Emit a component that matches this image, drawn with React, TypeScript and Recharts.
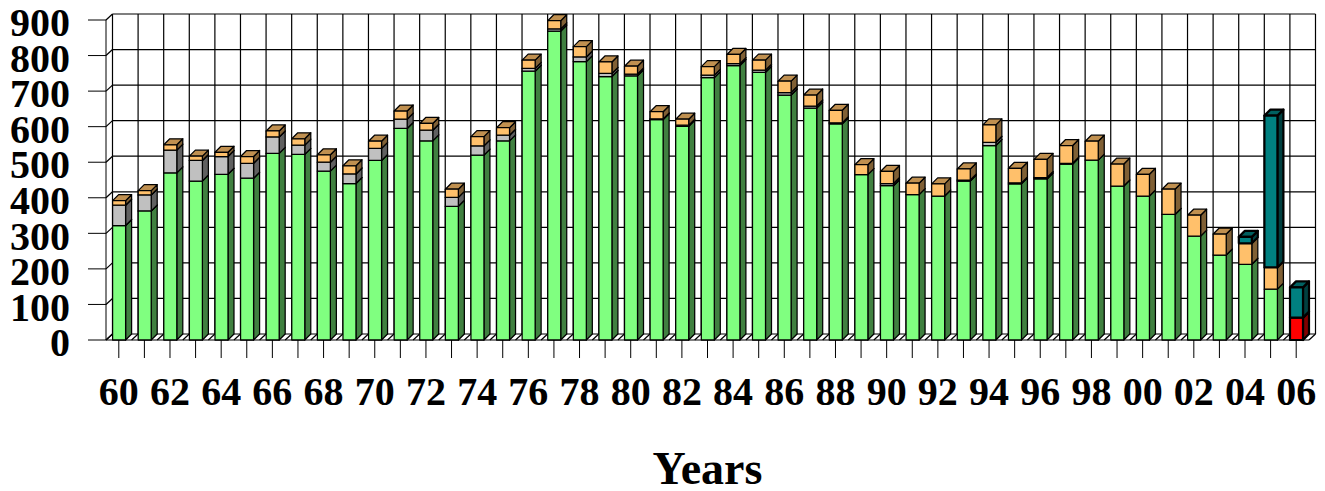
import { BarChart, Bar, XAxis, YAxis, CartesianGrid } from 'recharts';

const years = [
  '60', '61', '62', '63', '64', '65', '66', '67', '68', '69',
  '70', '71', '72', '73', '74', '75', '76', '77', '78', '79',
  '80', '81', '82', '83', '84', '85', '86', '87', '88', '89',
  '90', '91', '92', '93', '94', '95', '96', '97', '98', '99',
  '00', '01', '02', '03', '04', '05', '06',
];
const redValues = [
  0, 0, 0, 0, 0, 0, 0, 0, 0, 0,
  0, 0, 0, 0, 0, 0, 0, 0, 0, 0,
  0, 0, 0, 0, 0, 0, 0, 0, 0, 0,
  0, 0, 0, 0, 0, 0, 0, 0, 0, 0,
  0, 0, 0, 0, 0, 0, 63,
];
const greenValues = [
  322, 363, 470, 447, 466, 455, 525, 522, 475, 440,
  505, 595, 560, 376, 520, 560, 756, 869, 783, 741,
  743, 620, 601, 738, 772, 753, 689, 652, 608, 465,
  434, 409, 405, 447, 547, 439, 453, 495, 506, 433,
  405, 353, 292, 239, 213, 143, 0,
];
const grayValues = [
  57, 45, 64, 58, 50, 42, 46, 26, 25, 27,
  34, 26, 30, 25, 26, 16, 8, 6, 13, 9,
  5, 2, 3, 7, 5, 6, 7, 6, 3, 0,
  6, 0, 0, 3, 9, 3, 4, 2, 0, 0,
  0, 0, 0, 0, 0, 0, 0,
];
const orangeValues = [
  13, 12, 15, 12, 12, 19, 17, 18, 21, 23,
  20, 23, 19, 23, 26, 21, 23, 23, 29, 32,
  22, 20, 17, 24, 26, 28, 32, 31, 35, 28,
  34, 32, 34, 31, 49, 41, 51, 50, 53, 62,
  61, 71, 59, 59, 59, 61, 0,
];
const tealValues = [
  0, 0, 0, 0, 0, 0, 0, 0, 0, 0,
  0, 0, 0, 0, 0, 0, 0, 0, 0, 0,
  0, 0, 0, 0, 0, 0, 0, 0, 0, 0,
  0, 0, 0, 0, 0, 0, 0, 0, 0, 0,
  0, 0, 0, 0, 18, 427, 85,
];
const yTicks = [0, 100, 200, 300, 400, 500, 600, 700, 800, 900];

const chartData = years.map((year, i) => ({
  year,
  red: redValues[i],
  green: greenValues[i],
  gray: grayValues[i],
  orange: orangeValues[i],
  teal: tealValues[i],
}));

const FONT = '"Liberation Serif", serif';
const BAR_DEPTH = 6;
const WALL_DX = 6.5;
const WALL_DY = 6;

// bars have no 3d option, so each segment draws its own side and top faces
function box3d(front: string, side: string, top: string, strokeWidth: number) {
  return (props: any) => {
    const { width, height, y } = props;
    if (!height || height <= 0) return <g />;
    // recharts truncates the bar offset inside the band, put the half pixel back
    const x = props.x + 0.6;
    const d = BAR_DEPTH;
    return (
      <g stroke="#000" strokeWidth={strokeWidth} strokeLinejoin="round">
        <path
          d={`M${x + width},${y} L${x + width + d},${y - d} L${x + width + d},${y + height - d} L${x + width},${y + height} Z`}
          fill={side}
        />
        <path
          d={`M${x},${y} L${x + d},${y - d} L${x + width + d},${y - d} L${x + width},${y} Z`}
          fill={top}
        />
        <rect x={x} y={y} width={width} height={height} fill={front} />
      </g>
    );
  };
}

// horizontal grid: slant across the left wall, then along the back wall
function wallLine(props: any) {
  const { x1, x2, y1, index } = props;
  return (
    <g key={`h-${index}`} stroke="#000" strokeWidth={1.2}>
      <line x1={x1} y1={y1} x2={x1 + WALL_DX} y2={y1 - WALL_DY} />
      <line x1={x1 + WALL_DX} y1={y1 - WALL_DY} x2={x2 + WALL_DX} y2={y1 - WALL_DY} />
    </g>
  );
}

// vertical grid: slant across the floor, then up the back wall
function floorLine(props: any) {
  const { x1, y1, y2, index } = props;
  const top = Math.min(y1, y2);
  const bottom = Math.max(y1, y2);
  return (
    <g key={`v-${index}`} stroke="#000" strokeWidth={1.2}>
      <line x1={x1} y1={bottom} x2={x1 + WALL_DX} y2={bottom - WALL_DY} />
      <line x1={x1 + WALL_DX} y1={bottom - WALL_DY} x2={x1 + WALL_DX} y2={top - WALL_DY} />
    </g>
  );
}

function bandEdges({ offset }: any) {
  const band = offset.width / years.length;
  return [...years, 'end'].map((_, i) => offset.left + i * band);
}

export default function App() {
  const tickStyle = { fontFamily: FONT, fontSize: 40, fontWeight: 700, fill: '#000' };
  return (
    <div style={{ position: 'absolute', left: 0, top: 0 }}>
      <BarChart
        width={1325}
        height={491}
        data={chartData}
        margin={{ top: 20, right: 16, bottom: 0, left: 0 }}
        barSize={13}
      >
        <CartesianGrid
          horizontal={wallLine}
          vertical={floorLine}
          verticalCoordinatesGenerator={bandEdges}
        />
        <XAxis
          dataKey="year"
          interval={0}
          tickSize={18}
          tickMargin={19}
          stroke="#000"
          tick={tickStyle}
          tickFormatter={(v: string, i: number) => (i % 2 === 0 ? v : '')}
          height={151}
          label={{
            value: 'Years',
            position: 'insideBottom',
            offset: 7,
            style: { fontFamily: FONT, fontSize: 46, fontWeight: 700, fill: '#000' },
          }}
        />
        <YAxis
          type="number"
          domain={[0, 900]}
          ticks={yTicks}
          interval={0}
          width={106}
          tickSize={18}
          tickMargin={18}
          stroke="#000"
          tick={{ ...tickStyle, dy: 2 }}
        />
        <Bar dataKey="red" stackId="a" isAnimationActive={false} shape={box3d('#FF0000', '#800000', '#C00000', 2.2)} />
        <Bar dataKey="green" stackId="a" isAnimationActive={false} shape={box3d('#80FF80', '#408040', '#60C060', 1.25)} />
        <Bar dataKey="gray" stackId="a" isAnimationActive={false} shape={box3d('#C0C0C0', '#606060', '#909090', 1.25)} />
        <Bar dataKey="orange" stackId="a" isAnimationActive={false} shape={box3d('#FFC06B', '#806035', '#C09050', 1.25)} />
        <Bar dataKey="teal" stackId="a" isAnimationActive={false} shape={box3d('#008080', '#004040', '#006060', 2.2)} />
      </BarChart>
    </div>
  );
}
